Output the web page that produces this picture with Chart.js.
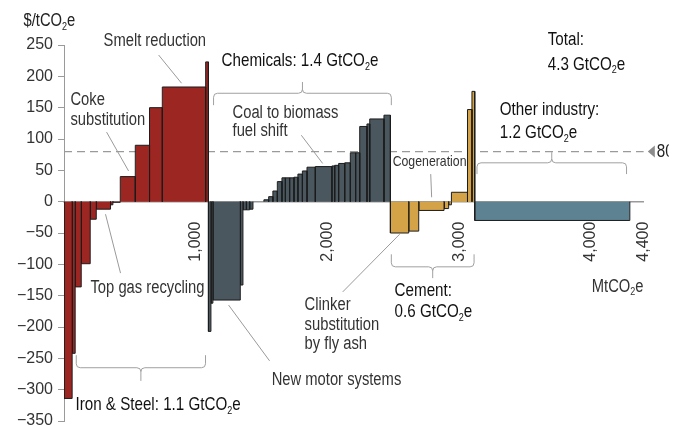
<!DOCTYPE html>
<html>
<head>
<meta charset="utf-8">
<script src="https://cdn.jsdelivr.net/npm/chart.js@4.4.1/dist/chart.umd.min.js"></script>
<style>
  html, body { margin: 0; padding: 0; background: #fff; }
  #wrap { width: 683px; height: 426px; position: relative; }
</style>
</head>
<body>
<div id="wrap"><canvas id="macc"></canvas></div>
<script>
// -----------------------------------------------
// data: abatement width (MtCO2e) and cost ($/tCO2e) per lever, by sector
// -----------------------------------------------
const ironWidths = [62, 23, 46, 68, 46, 108, 18, 56, 114, 108, 97, 329, 21];
const ironCosts  = [-314, -242, -136, -99, -28, -12, -5, -1, 40, 90, 150, 183, 223];

const chemWidths = [19, 15, 208, 20, 25, 26, 25, 83, 36, 32, 34, 35, 26, 32, 33, 30, 34, 35, 63, 126, 21, 30, 46, 43, 40, 31, 55, 21, 108, 49];
const chemCosts  = [-207, -162, -157, -133, -13, -13, -12, 0, 3, 8, 17, 32, 38, 38, 38, 39, 44, 49, 55, 56, 57, 58, 61, 62, 78, 78, 120, 124, 132, 138];

const cementWidths = [139, 76, 192, 35, 21, 122, 34, 21];
const cementCosts  = [-50, -47, -14, -11, -5, 15, 147, 176];

const otherWidths = [1177];
const otherCosts  = [-30];

const carbonPrice = 80;
const xTickValues = [1000, 2000, 3000, 4000, 4400];

// sector colours
const sectors = [
  { widths: ironWidths,   costs: ironCosts,   color: "#9b2622" },
  { widths: chemWidths,   costs: chemCosts,   color: "#4a575e" },
  { widths: cementWidths, costs: cementCosts, color: "#d4a347" },
  { widths: otherWidths,  costs: otherCosts,  color: "#5d8291" }
];

const FONT = "'Liberation Sans', Arial, sans-serif";
const SQUEEZE = 0.82; // fake condensed face for annotations

// -----------------------------------------------
// bars -> one filled line dataset per lever
// -----------------------------------------------
const datasets = [];
let cum = 0;
sectors.forEach(s => {
  s.widths.forEach((w, i) => {
    const x0 = cum, x1 = cum + w, v = s.costs[i];
    cum = x1;
    if (v === 0) return;
    datasets.push({
      data: [{ x: x0, y: 0 }, { x: x0, y: v }, { x: x1, y: v }, { x: x1, y: 0 }],
      backgroundColor: s.color,
      borderColor: "#1c1c1c",
      borderWidth: 1,
      pointRadius: 0,
      fill: "origin",
      tension: 0,
      order: 1
    });
  });
});

// dashed carbon price line
datasets.push({
  data: [{ x: 0, y: carbonPrice }, { x: 4400, y: carbonPrice }],
  borderColor: "#9a9a9a",
  borderDash: [8, 5],
  borderWidth: 1.2,
  pointRadius: 0,
  fill: false,
  order: 100
});

// -----------------------------------------------
// annotations (data coordinates)
// -----------------------------------------------
const notes = [
  { t: "$/tCO₂e", x: -307, y: 288, size: 18, c: "#222" },
  { t: "Smelt reduction", x: 300, y: 256, size: 18, c: "#333" },
  { t: "Coke", x: 49, y: 162, size: 18, c: "#333" },
  { t: "substitution", x: 49, y: 130, size: 18, c: "#333" },
  { t: "Top gas recycling", x: 201, y: -138, size: 18, c: "#333" },
  { t: "Iron & Steel: 1.1 GtCO₂e", x: 87, y: -325, size: 18.5, c: "#111" },
  { t: "Chemicals: 1.4 GtCO₂e", x: 1196, y: 224, size: 18.5, c: "#111" },
  { t: "Coal to biomass", x: 1279, y: 141, size: 18, c: "#333" },
  { t: "fuel shift", x: 1279, y: 112, size: 18, c: "#333" },
  { t: "New motor systems", x: 1576, y: -285, size: 18, c: "#333" },
  { t: "Clinker", x: 1826, y: -165, size: 18, c: "#333" },
  { t: "substitution", x: 1826, y: -197, size: 18, c: "#333" },
  { t: "by fly ash", x: 1826, y: -227, size: 18, c: "#333" },
  { t: "Cement:", x: 2509, y: -143, size: 18.5, c: "#111" },
  { t: "0.6 GtCO₂e", x: 2509, y: -176, size: 18.5, c: "#111" },
  { t: "Cogeneration", x: 2494, y: 64, size: 15, c: "#333" },
  { t: "Other industry:", x: 3307, y: 146, size: 18.5, c: "#111" },
  { t: "1.2 GtCO₂e", x: 3307, y: 109, size: 18.5, c: "#111" },
  { t: "Total:", x: 3671, y: 258, size: 18.5, c: "#111" },
  { t: "4.3 GtCO₂e", x: 3671, y: 219, size: 18.5, c: "#111" },
  { t: "MtCO₂e", x: 4005, y: -136, size: 18, c: "#333" }
];

const leaders = [
  [718, 234, 892, 189],     // smelt reduction
  [323, 111, 490, 49],      // coke substitution
  [315, -20, 429, -114],    // top gas recycling
  [1801, 106, 1963, 61],    // coal to biomass
  [1249, -165, 1560, -254], // new motor systems
  [2115, -144, 2547, -52],  // clinker
  [2783, 44, 2790, 7]       // cogeneration
];

// [x0, x1, y line, y ends, y middle tick]
const brackets = [
  [93, 1074, -265, -245, -286],
  [1135, 2484, 173, 154, 191],
  [2484, 3112, -104, -84, -122],
  [3134, 4269, 62, 44, 79]
];

function drawRich(ctx, text, x, y, size, color) {
  const parts = text.split("₂");
  ctx.save();
  ctx.translate(x, y);
  ctx.scale(SQUEEZE, 1);
  ctx.fillStyle = color;
  ctx.textBaseline = "middle";
  ctx.textAlign = "left";
  let cx = 0;
  parts.forEach((p, i) => {
    ctx.font = `${size}px ${FONT}`;
    ctx.fillText(p, cx, 0);
    cx += ctx.measureText(p).width;
    if (i < parts.length - 1) {
      ctx.font = `${Math.round(size * 0.62)}px ${FONT}`;
      ctx.fillText("2", cx, size * 0.3);
      cx += ctx.measureText("2").width;
    }
  });
  ctx.restore();
}

function bracket(ctx, x0, x1, y, yEnd, yTick) {
  const r = 4;
  const s = Math.sign(yEnd - y);
  const t = Math.sign(yTick - y);
  const xm = (x0 + x1) / 2;
  ctx.beginPath();
  ctx.moveTo(x0, yEnd);
  ctx.lineTo(x0, y + s * r);
  ctx.quadraticCurveTo(x0, y, x0 + r, y);
  ctx.lineTo(xm - r, y);
  ctx.quadraticCurveTo(xm, y, xm, y + t * r);
  ctx.lineTo(xm, yTick);
  ctx.moveTo(xm, y + t * r);
  ctx.quadraticCurveTo(xm, y, xm + r, y);
  ctx.lineTo(x1 - r, y);
  ctx.quadraticCurveTo(x1, y, x1, y + s * r);
  ctx.lineTo(x1, yEnd);
  ctx.stroke();
}

const annotPlugin = {
  id: "annot",
  afterDraw(chart) {
    const { ctx, scales: { x, y } } = chart;
    const px = v => x.getPixelForValue(v);
    const py = v => y.getPixelForValue(v);
    ctx.save();

    // leader lines
    ctx.strokeStyle = "#9a9a9a";
    ctx.lineWidth = 1;
    leaders.forEach(l => {
      ctx.beginPath();
      ctx.moveTo(px(l[0]), py(l[1]));
      ctx.lineTo(px(l[2]), py(l[3]));
      ctx.stroke();
    });

    // sector braces
    ctx.strokeStyle = "#a0a0a0";
    brackets.forEach(b => bracket(ctx, px(b[0]), px(b[1]), py(b[2]), py(b[3]), py(b[4])));

    // texts
    notes.forEach(n => drawRich(ctx, n.t, px(n.x), py(n.y), n.size, n.c));

    // carbon price marker at right edge
    const yc = py(carbonPrice);
    const xr = chart.chartArea.right;
    ctx.fillStyle = "#8c8c8c";
    ctx.beginPath();
    ctx.moveTo(xr + 4, yc);
    ctx.lineTo(xr + 11, yc - 6);
    ctx.lineTo(xr + 11, yc + 6);
    ctx.closePath();
    ctx.fill();
    ctx.beginPath();
    ctx.rect(xr + 12, yc - 15, 13, 30);
    ctx.clip();
    drawRich(ctx, "80", xr + 13, yc, 18.5, "#222");
    ctx.restore();
  }
};

new Chart(document.getElementById("macc"), {
  type: "line",
  data: { datasets },
  options: {
    responsive: true,
    maintainAspectRatio: false,
    animation: false,
    layout: { padding: { top: 45, right: 38, bottom: 5, left: 0 } },
    plugins: { legend: { display: false }, tooltip: { enabled: false } },
    scales: {
      x: {
        type: "linear",
        position: { y: 0 },
        min: 0,
        max: 4400,
        afterBuildTicks: s => { s.ticks = xTickValues.map(v => ({ value: v })); },
        ticks: {
          minRotation: 90,
          maxRotation: 90,
          autoSkip: false,
          padding: 20,
          color: "#333",
          font: { family: FONT, size: 16 },
          callback: v => v.toLocaleString("en-US")
        },
        grid: { display: true, drawOnChartArea: false, drawTicks: false, color: "transparent" },
        border: { color: "#9a9a9a", width: 1.5 }
      },
      y: {
        min: -350,
        max: 250,
        afterFit: s => { s.width = 64; s.paddingTop = 0; s.paddingBottom = 0; },
        ticks: {
          stepSize: 50,
          padding: 5,
          color: "#333",
          font: { family: FONT, size: 16 },
          callback: v => (v < 0 ? "−" + Math.abs(v) : String(v))
        },
        grid: { drawOnChartArea: false, drawTicks: true, tickLength: 6, color: "#9a9a9a" },
        border: { color: "#9a9a9a", width: 1 }
      }
    }
  },
  plugins: [annotPlugin]
});
</script>
</body>
</html>
